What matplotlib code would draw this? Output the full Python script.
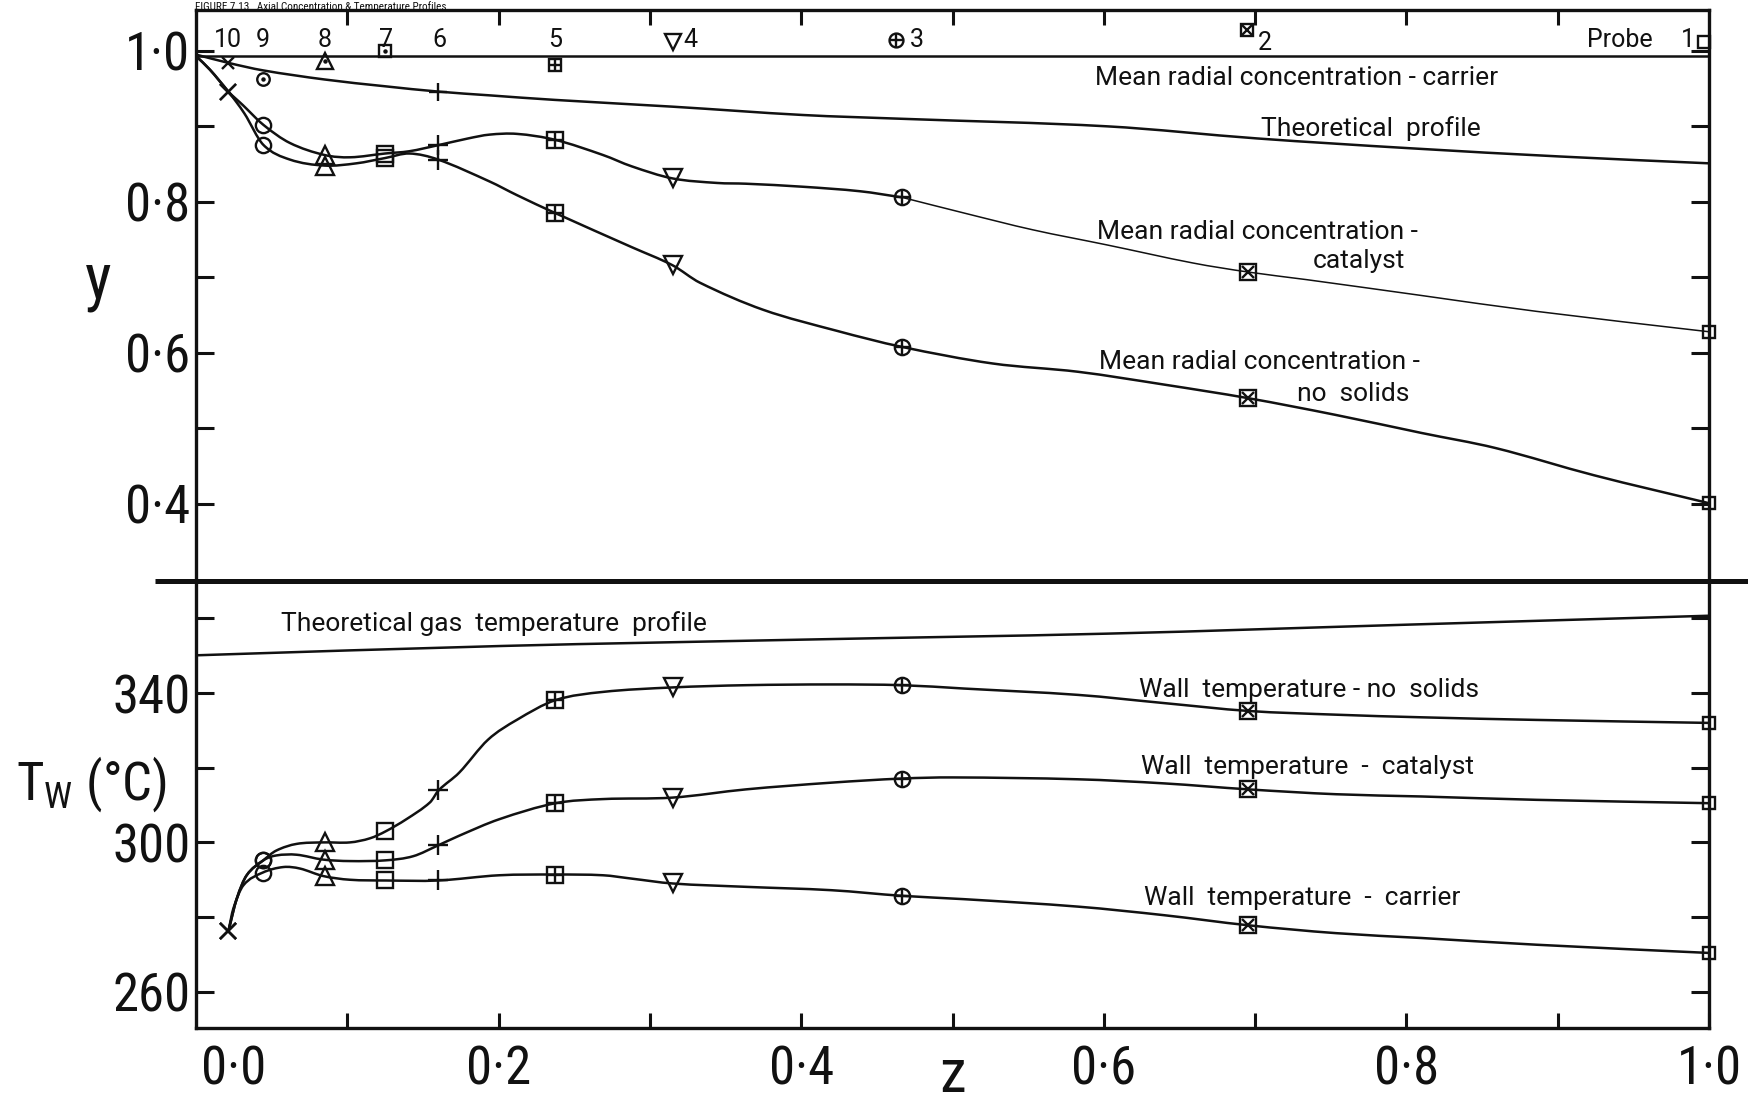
import matplotlib
matplotlib.use("Agg")
import matplotlib.pyplot as plt
from matplotlib import font_manager as fm
from matplotlib.lines import Line2D
from matplotlib.path import Path
from matplotlib.patches import PathPatch

# narrow face for the large numerals, regular face for the captions
_entries = [(f.name, f.stretch) for f in fm.fontManager.ttflist]
_family, _stretch = 'DejaVu Sans', 'normal'
for name, stretch in [('Liberation Sans Narrow', 'normal'),
                      ('Roboto Condensed', 'normal'),
                      ('Roboto Condensed', 'condensed'),
                      ('DejaVu Sans', 'condensed'),
                      ('Open Sans', 'condensed'),
                      ('Noto Sans', 'condensed')]:
    if (name, stretch) in _entries:
        _family, _stretch = name, stretch
        break
_caption = 'Roboto' if ('Roboto', 'normal') in _entries else 'DejaVu Sans'

plt.rcParams['font.family'] = [_family, 'DejaVu Sans']
plt.rcParams['font.stretch'] = _stretch
plt.rcParams['mathtext.fontset'] = 'custom'
plt.rcParams['mathtext.rm'] = _family

# ---------------- data ----------------
# axial positions of probes 10 ... 1
probe_ids = ["10", "9", "8", "7", "6", "5", "4", "3", "2", "1"]
probe_z = [0.0214, 0.0445, 0.085, 0.125, 0.160, 0.2376, 0.315, 0.4665, 0.6956, 1.0]

# mean radial concentration, carrier (probes 10..5) and its faired value
conc_carrier = [0.984, 0.962, 0.986, 1.000, 0.946, 0.981]
conc_carrier_level = 0.9925

# mean radial concentration at the probes
conc_catalyst = [0.946, 0.902, 0.862, 0.864, 0.875, 0.882, 0.831, 0.806, 0.707, 0.628]
conc_nosolids = [0.946, 0.8755, 0.848, 0.858, 0.856, 0.785, 0.716, 0.608, 0.540, 0.401]

# faired concentration curves
theo_conc_z = [0, 0.0214, 0.0445, 0.085, 0.125, 0.160, 0.194, 0.237, 0.315, 0.401,
               0.466, 0.602, 0.701, 0.802, 0.902, 1.0]
theo_conc_y = [0.995, 0.984, 0.974, 0.962, 0.953, 0.946, 0.941, 0.935, 0.926, 0.915,
               0.910, 0.900, 0.884, 0.871, 0.860, 0.851]

cat_conc_z = [0, 0.0092, 0.0214, 0.031, 0.0445, 0.062, 0.085, 0.102, 0.125, 0.141,
              0.160, 0.180, 0.194, 0.212, 0.2376, 0.269, 0.288, 0.315, 0.3445, 0.3635,
              0.401, 0.439, 0.4665]
cat_conc_y = [0.993, 0.975, 0.946, 0.928, 0.902, 0.878, 0.862, 0.859, 0.864, 0.867,
              0.875, 0.884, 0.889, 0.890, 0.882, 0.862, 0.847, 0.831, 0.825, 0.824,
              0.820, 0.814, 0.806]
cat_conc_tail_z = [0.4665, 0.508, 0.553, 0.602, 0.659, 0.6956, 0.734, 0.810, 0.886, 1.0]
cat_conc_tail_y = [0.806, 0.785, 0.763, 0.743, 0.719, 0.707, 0.697, 0.676, 0.655, 0.628]

nos_conc_z = [0, 0.0092, 0.0214, 0.032, 0.0445, 0.062, 0.085, 0.106, 0.125, 0.141,
              0.160, 0.194, 0.212, 0.2376, 0.288, 0.315, 0.333, 0.375, 0.424, 0.4665,
              0.5265, 0.583, 0.640, 0.6956, 0.753, 0.810, 0.859, 0.924, 1.0]
nos_conc_y = [0.993, 0.975, 0.946, 0.917, 0.8755, 0.856, 0.848, 0.851, 0.858, 0.864,
              0.856, 0.827, 0.809, 0.785, 0.740, 0.716, 0.693, 0.657, 0.629, 0.608,
              0.586, 0.575, 0.558, 0.540, 0.518, 0.494, 0.474, 0.438, 0.401]

# wall temperatures at the probes (deg C)
tw_nosolids = [276.2, 295.2, 300.0, 303.0, 314.0, 338.1, 341.5, 342.1, 335.2, 332.0]
tw_catalyst = [276.2, 295.2, 295.4, 295.2, 299.2, 310.5, 312.0, 317.1, 314.2, 310.5]
tw_carrier = [276.2, 291.9, 291.0, 289.8, 289.8, 291.4, 289.0, 285.7, 277.8, 270.4]

# faired temperature curves
theo_gas_z = [0, 0.202, 0.401, 0.602, 0.80, 1.0]
theo_gas_t = [350.1, 352.6, 354.3, 355.9, 358.3, 360.7]

tw_nos_z = [0.0214, 0.027, 0.0335, 0.0445, 0.053, 0.0665, 0.084, 0.1017, 0.115, 0.1255,
            0.139, 0.1546, 0.1605, 0.174, 0.193, 0.212, 0.2376, 0.269, 0.315, 0.3635,
            0.420, 0.4665, 0.5076, 0.583, 0.640, 0.6956, 0.7535, 0.810, 0.886, 1.0]
tw_nos_t = [276.2, 285.0, 291.2, 295.2, 297.8, 299.6, 300.0, 300.0, 301.1, 303.0,
            306.2, 310.7, 314.0, 318.7, 327.5, 332.8, 338.1, 340.3, 341.5, 342.1,
            342.3, 342.1, 341.2, 339.5, 337.3, 335.2, 334.2, 333.5, 332.8, 332.0]

tw_cat_z = [0.0214, 0.027, 0.0335, 0.0445, 0.053, 0.0665, 0.084, 0.1017, 0.1255, 0.1435,
            0.160, 0.174, 0.2004, 0.2376, 0.269, 0.315, 0.3635, 0.420, 0.4665, 0.50,
            0.583, 0.640, 0.6956, 0.7535, 0.810, 0.886, 1.0]
tw_cat_t = [276.2, 285.0, 291.2, 295.2, 296.5, 296.7, 295.4, 295.0, 295.2, 296.3,
            299.2, 301.8, 306.2, 310.5, 311.6, 312.0, 314.2, 316.0, 317.1, 317.4,
            316.9, 315.8, 314.2, 312.9, 312.3, 311.4, 310.5]

tw_car_z = [0.0214, 0.0247, 0.0313, 0.0440, 0.0577, 0.0687, 0.084, 0.1017, 0.1255, 0.160,
            0.2004, 0.2376, 0.269, 0.288, 0.315, 0.3635, 0.420, 0.4665, 0.5076, 0.583,
            0.640, 0.6956, 0.7535, 0.810, 0.886, 1.0]
tw_car_t = [276.2, 282.3, 288.5, 291.9, 293.4, 293.0, 291.0, 290.0, 289.8, 289.8,
            291.2, 291.4, 291.2, 290.3, 289.0, 288.1, 287.2, 285.7, 284.8, 282.8,
            280.5, 277.8, 275.7, 274.4, 272.6, 270.4]

# ---------------- figure ----------------
W, H = 1748, 1110
fig = plt.figure(figsize=(W / 100, H / 100), dpi=100)
fig.patch.set_facecolor('white')

x0, x1 = 196 / W, 1709 / W
ysep = 1 - 581 / H
ax_t = fig.add_axes([x0, ysep, x1 - x0, (1 - 10 / H) - ysep])
ax_b = fig.add_axes([x0, 1 - 1028 / H, x1 - x0, ysep - (1 - 1028 / H)])

INK = '#111111'
LW = 1.8
SPW = 2.4
TICKFS = 38

for ax in (ax_t, ax_b):
    ax.set_xlim(0, 1)
    for s in ax.spines.values():
        s.set_linewidth(SPW)
        s.set_color(INK)
    ax.tick_params(which='both', direction='in', color=INK, width=2.2, length=13,
                   labelsize=TICKFS, pad=4, labelcolor=INK)

ax_t.set_ylim(0.298, 1.054)
ax_b.set_ylim(250.3, 370.0)
ax_t.spines['bottom'].set_visible(False)
ax_b.spines['top'].set_visible(False)

# top panel ticks
ax_t.set_xticks([0.1, 0.2, 0.3, 0.4, 0.5, 0.6, 0.7, 0.8, 0.9])
ax_t.tick_params(axis='x', bottom=False, top=True, labelbottom=False, labeltop=False, length=11)
ax_t.set_yticks([0.4, 0.6, 0.8, 1.0], ["0·4", "0·6", "0·8", "1·0"])
ax_t.set_yticks([0.5, 0.7, 0.9], minor=True)
ax_t.tick_params(axis='y', which='both', left=True, right=True)

# bottom panel ticks
XPAD = 12
ax_b.set_xticks([0.2, 0.4, 0.6, 0.8, 1.0], ["0·2", "0·4", "0·6", "0·8", "1·0"])
ax_b.set_xticks([0.1, 0.3, 0.5, 0.7, 0.9], minor=True)
ax_b.tick_params(axis='x', which='both', top=False, bottom=True, pad=XPAD, length=11)
ax_b.set_yticks([260, 300, 340], ["260", "300", "340"])
ax_b.set_yticks([280, 320, 360], minor=True)
ax_b.tick_params(axis='y', which='both', left=True, right=True)
# the origin label sits just clear of the left axis line
ax_b.annotate("0·0", xy=(0.025, 0), xycoords=('data', 'axes fraction'),
              xytext=(0, -XPAD), textcoords='offset points',
              ha='center', va='top', fontsize=TICKFS, color=INK)

# separator between the panels
fig.add_artist(Line2D([155 / W, 1.0], [ysep, ysep], transform=fig.transFigure,
                      color=INK, lw=3.6, solid_capstyle='butt'))

# title above the frame
fig.text(195 / W, 1 - 9.5 / H, "FIGURE 7.13   Axial Concentration & Temperature Profiles",
         fontsize=8, color=INK, va='baseline', ha='left')

# axis labels
fig.text(98 / W, 1 - 281 / H, "y", fontsize=46, color=INK, ha='center', va='center')
fig.text(953 / W, 6 / H, "z", fontsize=44, color=INK, ha='center', va='bottom')
fig.text(92 / W, 1 - 784 / H, r"T$_\mathrm{W}$ (°C)", fontsize=38, color=INK,
         ha='center', va='center')

mk = dict(color=INK, mfc='none', mew=1.7, ls='none', clip_on=False, zorder=4)


def smooth_curve(ax, xs, ys, lw=LW):
    """Draw a faired curve through the traced points as cubic Bezier segments."""
    n = len(xs)
    slopes = []
    for i in range(n):
        a = max(i - 1, 0)
        b = min(i + 1, n - 1)
        slopes.append((ys[b] - ys[a]) / (xs[b] - xs[a]))
    verts = [(xs[0], ys[0])]
    codes = [Path.MOVETO]
    for i in range(n - 1):
        dx = xs[i + 1] - xs[i]
        verts += [(xs[i] + dx / 3, ys[i] + slopes[i] * dx / 3),
                  (xs[i + 1] - dx / 3, ys[i + 1] - slopes[i + 1] * dx / 3),
                  (xs[i + 1], ys[i + 1])]
        codes += [Path.CURVE4] * 3
    ax.add_patch(PathPatch(Path(verts, codes), fill=False, lw=lw, edgecolor=INK,
                           capstyle='round', joinstyle='round', zorder=3))


def probe_markers(ax, zs, vs, size=11):
    """Probe symbols: x, o, ^, s, +, boxed +, v, circled +, boxed x, small box."""
    style = [('x',), ('o',), ('^',), ('s',), ('+',), ('s', '+'), ('v',), ('o', '+'),
             ('s', 'x'), ('s',)]
    for z, v, st in zip(zs, vs, style):
        for m in st:
            s = size
            if m == '+':
                s = size * (1.3 if len(st) == 1 else 1.0)
            if m == '^' or m == 'v':
                s = size * 1.15
            if m == 'x' and len(st) > 1:
                s = size * 0.8
            if st == ('s',) and z >= 0.99:
                s = size * 0.75
            ax.plot([z], [v], marker=m, ms=s, **mk)


# ---------------- concentration panel ----------------
ax_t.plot([0, 1], [conc_carrier_level] * 2, color=INK, lw=LW)
smooth_curve(ax_t, theo_conc_z, theo_conc_y)
smooth_curve(ax_t, cat_conc_z, cat_conc_y)
smooth_curve(ax_t, cat_conc_tail_z, cat_conc_tail_y, lw=1.1)
smooth_curve(ax_t, nos_conc_z, nos_conc_y)

probe_markers(ax_t, probe_z, conc_catalyst)
probe_markers(ax_t, probe_z, conc_nosolids)

# carrier points: x, dotted circle, dotted triangle, dotted box, +, boxed +
cz = probe_z[:6]
small = 9
ax_t.plot([cz[0]], [conc_carrier[0]], marker='x', ms=small, **mk)
ax_t.plot([cz[1]], [conc_carrier[1]], marker='o', ms=small, **mk)
ax_t.plot([cz[2]], [conc_carrier[2]], marker='^', ms=small + 3, **mk)
ax_t.plot([cz[3]], [conc_carrier[3]], marker='s', ms=small - 1, **mk)
for z, v in zip(cz[1:4], conc_carrier[1:4]):
    ax_t.plot([z], [v], marker='.', ms=3, **mk)
ax_t.plot([cz[4]], [conc_carrier[4]], marker='+', ms=small + 4, **mk)
ax_t.plot([cz[5]], [conc_carrier[5]], marker='s', ms=small - 1, **mk)
ax_t.plot([cz[5]], [conc_carrier[5]], marker='+', ms=small - 1, **mk)

# probe numbering along the top
cap = dict(family=[_caption, 'DejaVu Sans'], stretch='normal', color=INK)
num_y = 1.0146
num_z = [0.0211, 0.0443, 0.0853, 0.1256, 0.1606, 0.2373, 0.3265, 0.4765, 0.7065, 0.986]
for lab, z in zip(probe_ids, num_z):
    yy = num_y - (0.004 if lab == "2" else 0)
    ax_t.text(z, yy, lab, fontsize=18, ha='center', va='center', **cap)
ax_t.text(0.941, num_y, "Probe", fontsize=18, ha='center', va='center', **cap)
ax_t.plot([0.315], [1.011], marker='v', ms=12, **mk)
ax_t.plot([0.4624], [1.0146], marker='o', ms=10, **mk)
ax_t.plot([0.4624], [1.0146], marker='+', ms=10, **mk)
ax_t.plot([0.6945], [1.027], marker='s', ms=8, **mk)
ax_t.plot([0.6945], [1.027], marker='x', ms=6.5, **mk)
ax_t.plot([0.997], [1.012], marker='s', ms=8, **mk)

tk = dict(fontsize=19, ha='left', va='center', **cap)
ax_t.text(0.594, 0.964, "Mean radial concentration - carrier", **tk)
ax_t.text(0.704, 0.897, "Theoretical  profile", **tk)
ax_t.text(0.5955, 0.760, "Mean radial concentration -", **tk)
ax_t.text(0.738, 0.722, "catalyst", **tk)
ax_t.text(0.597, 0.588, "Mean radial concentration -", **tk)
ax_t.text(0.728, 0.546, "no  solids", **tk)

# ---------------- temperature panel ----------------
smooth_curve(ax_b, theo_gas_z, theo_gas_t)
smooth_curve(ax_b, tw_nos_z, tw_nos_t)
smooth_curve(ax_b, tw_cat_z, tw_cat_t)
smooth_curve(ax_b, tw_car_z, tw_car_t)

probe_markers(ax_b, probe_z, tw_nosolids)
probe_markers(ax_b, probe_z, tw_catalyst)
probe_markers(ax_b, probe_z, tw_carrier)

ax_b.text(0.056, 358.7, "Theoretical gas  temperature  profile", **tk)
ax_b.text(0.623, 340.8, "Wall  temperature - no  solids", **tk)
ax_b.text(0.6246, 320.3, "Wall  temperature  -  catalyst", **tk)
ax_b.text(0.6266, 285.0, "Wall  temperature  -  carrier", **tk)

fig.savefig("out.png", dpi=100, facecolor='white')
